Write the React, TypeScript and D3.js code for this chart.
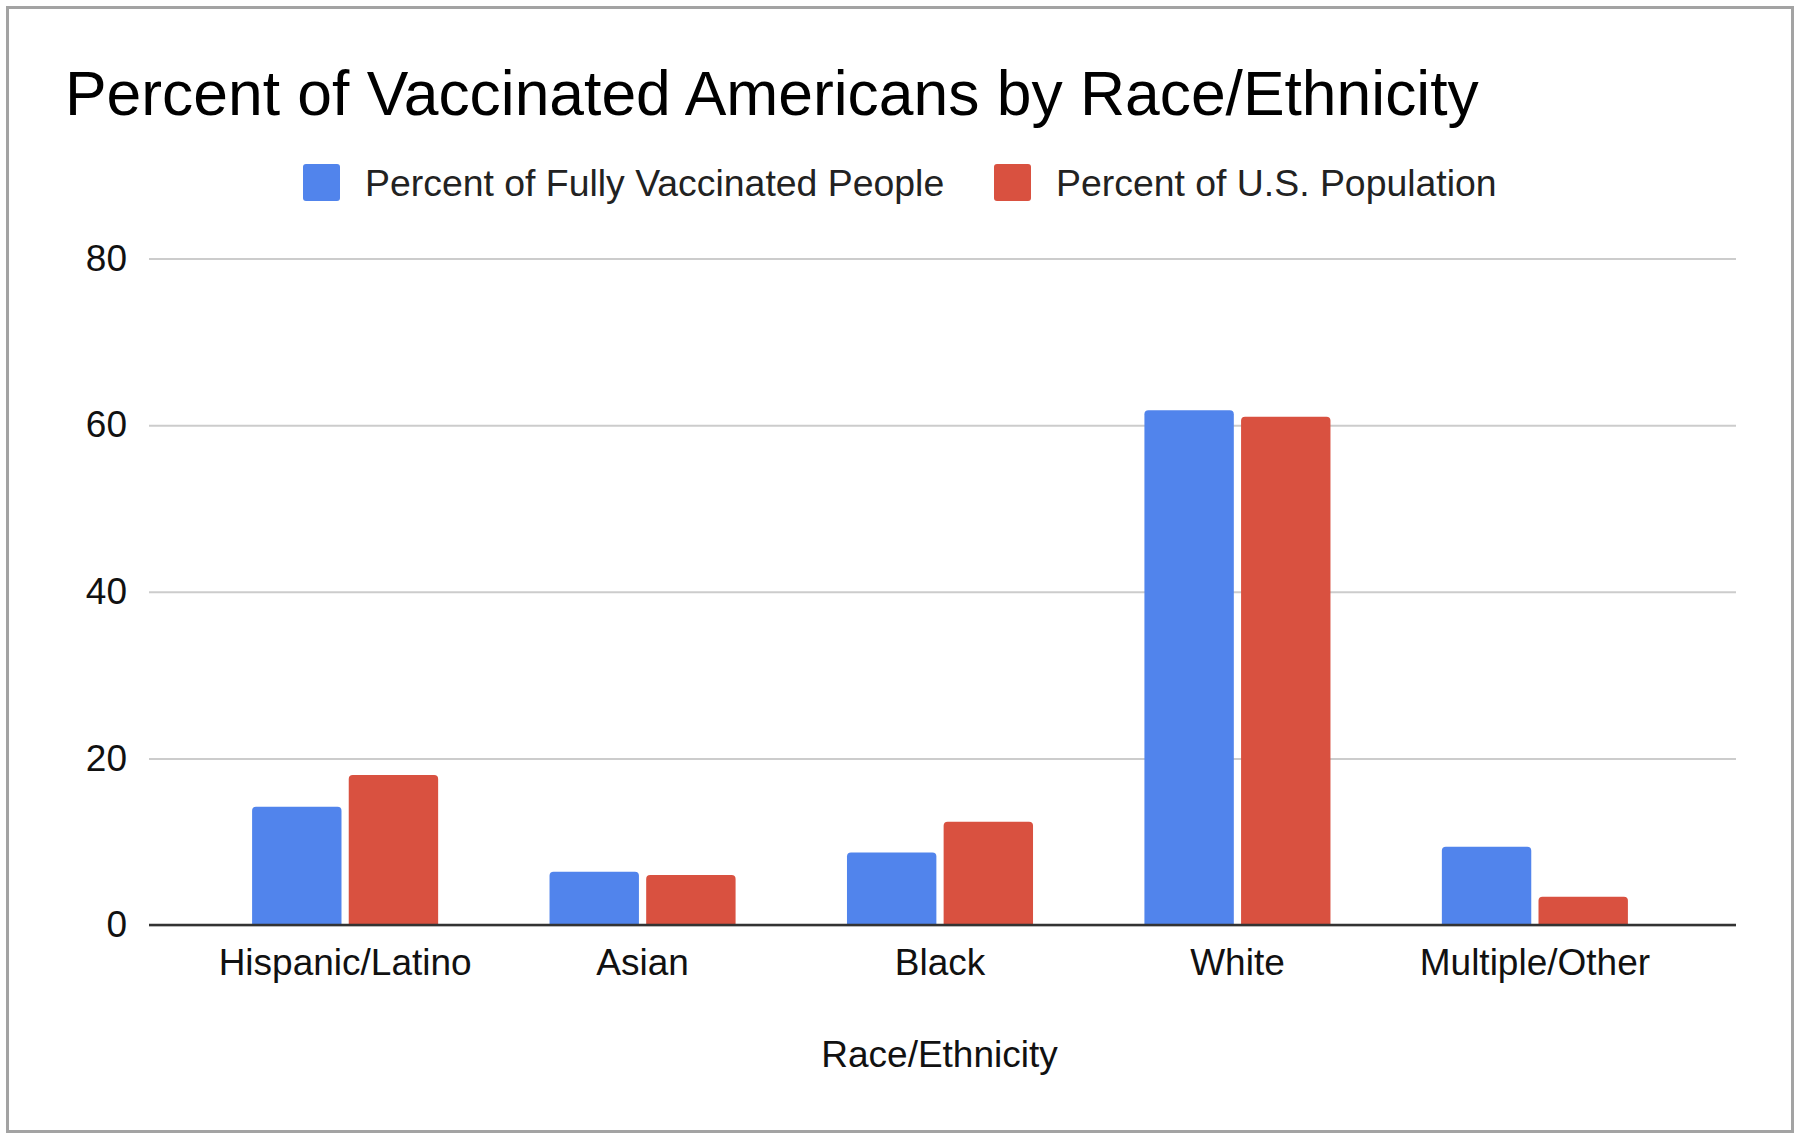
import { useEffect, useRef } from "react";
import * as d3 from "d3";

const categories = ["Hispanic/Latino", "Asian", "Black", "White", "Multiple/Other"];
const fullyVaccinated = [14.2, 6.4, 8.7, 61.8, 9.4];
const usPopulation = [18.0, 6.0, 12.4, 61.0, 3.4];
const seriesNames = ["Percent of Fully Vaccinated People", "Percent of U.S. Population"];
const seriesColors = ["#5184ec", "#d95140"];
const yTicks = [0, 20, 40, 60, 80];

const chartTitle = "Percent of Vaccinated Americans by Race/Ethnicity";
const xTitle = "Race/Ethnicity";

const fontFace = "'Liberation Sans', Arial, Helvetica, sans-serif";

// bar with rounded top corners only
function topRounded(x: number, y: number, w: number, h: number, r: number) {
  const rr = Math.min(r, w / 2, h);
  return `M${x},${y + h} V${y + rr} Q${x},${y} ${x + rr},${y} H${x + w - rr} Q${x + w},${y} ${x + w},${y + rr} V${y + h} Z`;
}

const App = () => {
  const svgRef = useRef<SVGSVGElement | null>(null);

  useEffect(() => {
    const width = 1800;
    const height = 1139;
    const left = 149, right = 1736, top = 258.5, bottom = 925;

    const svg = d3.select(svgRef.current);
    svg.selectAll("*").remove();
    svg.style("font-family", fontFace);

    svg.append("rect")
      .attr("x", 0).attr("y", 0)
      .attr("width", width).attr("height", height)
      .attr("fill", "#fff");

    svg.append("rect")
      .attr("x", 7.5).attr("y", 7.5)
      .attr("width", 1785).attr("height", 1124)
      .attr("fill", "none")
      .attr("stroke", "#a3a3a3")
      .attr("stroke-width", 3);

    // title
    svg.append("text")
      .attr("x", 65).attr("y", 115)
      .attr("font-size", 62.4)
      .attr("fill", "#000")
      .text(chartTitle);

    // legend
    const legendItems = [
      { sq: 303, tx: 365 },
      { sq: 994, tx: 1056 },
    ];
    const legend = svg.append("g");
    legendItems.forEach((p, i) => {
      legend.append("rect")
        .attr("x", p.sq).attr("y", 164)
        .attr("width", 37).attr("height", 37)
        .attr("rx", 3)
        .attr("fill", seriesColors[i]);
      legend.append("text")
        .attr("x", p.tx).attr("y", 196)
        .attr("font-size", 37.4)
        .attr("fill", "#222")
        .text(seriesNames[i]);
    });

    const y = d3.scaleLinear().domain([0, 80]).range([bottom, top]);
    const x0 = d3.scaleBand<string>()
      .domain(categories)
      .range([left - 2.5, right - 2.5])
      .paddingInner(0.3745)
      .paddingOuter(0.355);
    const x1 = d3.scaleBand<string>()
      .domain(["0", "1"])
      .range([0, x0.bandwidth()])
      .paddingInner(0.075);

    // gridlines + y labels
    const yAxis = svg.append("g")
      .attr("transform", `translate(${left},0)`)
      .call(d3.axisLeft(y).tickValues(yTicks).tickSize(-(right - left)).tickPadding(22));
    yAxis.select(".domain").remove();
    yAxis.selectAll(".tick line")
      .attr("stroke", "#cccccc")
      .attr("stroke-width", 2);
    yAxis.selectAll(".tick text")
      .attr("font-size", 37)
      .attr("font-family", fontFace)
      .attr("fill", "#111");

    // bars
    const bars = svg.append("g");
    categories.forEach((c, i) => {
      [fullyVaccinated[i], usPopulation[i]].forEach((v, s) => {
        const bx = (x0(c) as number) + (x1(String(s)) as number);
        bars.append("path")
          .attr("d", topRounded(bx, y(v), x1.bandwidth(), y(0) - y(v), 4))
          .attr("fill", seriesColors[s]);
      });
    });

    // baseline
    svg.append("line")
      .attr("x1", left).attr("x2", right)
      .attr("y1", y(0)).attr("y2", y(0))
      .attr("stroke", "#333")
      .attr("stroke-width", 2.5);

    // x labels
    const xAxis = svg.append("g")
      .attr("transform", `translate(0,${bottom})`)
      .call(d3.axisBottom(x0).tickSize(0).tickPadding(24));
    xAxis.select(".domain").remove();
    xAxis.selectAll(".tick text")
      .attr("font-size", 37)
      .attr("font-family", fontFace)
      .attr("fill", "#111");

    svg.append("text")
      .attr("x", (left + right) / 2 - 3)
      .attr("y", 1067)
      .attr("text-anchor", "middle")
      .attr("font-size", 37)
      .attr("fill", "#111")
      .text(xTitle);
  }, []);

  return (
    <svg
      ref={svgRef}
      width={1800}
      height={1139}
      style={{ position: "absolute", left: 0, top: 0 }}
    ></svg>
  );
};

export default App;
